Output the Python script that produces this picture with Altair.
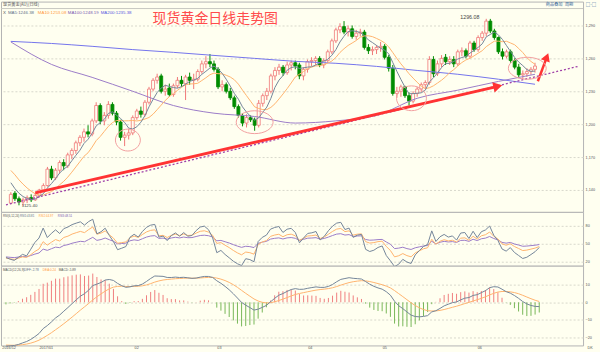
import altair as alt
import numpy as np
import pandas as pd

# ---------------- data ----------------
opens = [1128, 1137, 1132, 1129, 1131, 1133, 1131, 1135, 1140, 1144,
         1159, 1151, 1158, 1165, 1162, 1172, 1176, 1183, 1188, 1193,
         1191, 1203, 1217, 1203, 1208, 1218, 1210, 1202, 1188, 1190,
         1192, 1206, 1212, 1209, 1220, 1232, 1240, 1244, 1230, 1233,
         1227, 1235, 1240, 1237, 1243, 1240, 1241, 1248, 1255, 1257,
         1255, 1250, 1234, 1236, 1230, 1224, 1216, 1208, 1201, 1206,
         1204, 1199, 1219, 1226, 1230, 1244, 1249, 1252, 1247, 1254,
         1256, 1254, 1244, 1250, 1257, 1258, 1260, 1254, 1258, 1266,
         1276, 1286, 1289, 1284, 1287, 1280, 1283, 1284, 1270, 1267,
         1268, 1270, 1271, 1261, 1251, 1228, 1230, 1234, 1226, 1221,
         1228, 1232, 1236, 1238, 1259, 1246, 1255, 1261, 1257, 1259,
         1255, 1266, 1267, 1262, 1274, 1268, 1279, 1283, 1294, 1285,
         1279, 1266, 1262, 1266, 1258, 1252, 1245, 1246, 1248, 1250]
highs = [1138, 1139, 1134, 1133, 1135, 1136, 1137, 1141, 1146, 1161,
         1162, 1160, 1167, 1168, 1174, 1178, 1185, 1190, 1196, 1199,
         1205, 1220, 1219, 1211, 1221, 1220, 1212, 1204, 1193, 1196,
         1208, 1214, 1216, 1222, 1234, 1242, 1246, 1246, 1236, 1237,
         1237, 1243, 1244, 1245, 1247, 1246, 1250, 1258, 1262, 1264,
         1258, 1252, 1240, 1238, 1233, 1226, 1218, 1210, 1209, 1208,
         1206, 1222, 1228, 1233, 1246, 1252, 1255, 1254, 1257, 1258,
         1258, 1256, 1252, 1259, 1261, 1262, 1262, 1260, 1268, 1278,
         1288, 1292, 1294, 1290, 1290, 1286, 1287, 1286, 1273, 1271,
         1272, 1275, 1273, 1263, 1254, 1234, 1236, 1235, 1229, 1230,
         1234, 1238, 1240, 1262, 1262, 1258, 1263, 1264, 1262, 1262,
         1268, 1270, 1269, 1276, 1276, 1281, 1285, 1296.08, 1296, 1287,
         1280, 1269, 1268, 1268, 1260, 1255, 1249, 1251, 1252, 1256]
lows = [1127, 1130, 1126, 1125.4, 1128, 1129, 1130, 1133, 1138, 1143,
        1149, 1149, 1155, 1158, 1160, 1168, 1173, 1180, 1184, 1188,
        1189, 1201, 1200, 1199, 1205, 1208, 1199, 1185, 1180, 1186,
        1190, 1204, 1206, 1207, 1218, 1230, 1237, 1228, 1226, 1225,
        1225, 1233, 1234, 1222, 1236, 1232, 1239, 1246, 1251, 1252,
        1248, 1232, 1230, 1228, 1222, 1214, 1206, 1198, 1197, 1202,
        1194, 1197, 1216, 1222, 1228, 1240, 1245, 1244, 1245, 1249,
        1250, 1241, 1240, 1247, 1253, 1254, 1252, 1251, 1256, 1264,
        1274, 1283, 1282, 1280, 1278, 1277, 1280, 1268, 1264, 1263,
        1264, 1266, 1259, 1248, 1226, 1224, 1225, 1224, 1217, 1219,
        1225, 1229, 1232, 1236, 1243, 1244, 1252, 1254, 1254, 1252,
        1253, 1262, 1260, 1260, 1266, 1266, 1276, 1280, 1283, 1277,
        1264, 1259, 1260, 1256, 1250, 1242, 1241, 1243, 1245, 1247]
closes = [1136, 1132, 1129, 1131, 1133, 1131, 1135, 1140, 1144, 1159,
          1151, 1158, 1165, 1162, 1172, 1176, 1183, 1188, 1193, 1191,
          1203, 1217, 1203, 1208, 1218, 1210, 1202, 1188, 1190, 1192,
          1206, 1212, 1209, 1220, 1232, 1240, 1243, 1230, 1232, 1227,
          1235, 1240, 1237, 1243, 1240, 1241, 1248, 1255, 1257, 1255,
          1250, 1234, 1236, 1230, 1224, 1216, 1208, 1201, 1206, 1204,
          1199, 1219, 1226, 1230, 1244, 1249, 1252, 1247, 1254, 1256,
          1253, 1244, 1250, 1257, 1258, 1260, 1254, 1258, 1266, 1276,
          1286, 1289, 1284, 1287, 1280, 1283, 1284, 1270, 1267, 1268,
          1270, 1271, 1261, 1251, 1228, 1230, 1234, 1226, 1221, 1228,
          1232, 1236, 1238, 1259, 1246, 1255, 1260, 1257, 1259, 1255,
          1266, 1267, 1262, 1274, 1268, 1279, 1283, 1294, 1285, 1279,
          1266, 1262, 1266, 1258, 1252, 1245, 1246, 1248, 1250, 1253]
# closes just before the first visible day (set the start of MA5 / MA10)
prior_closes = [1172, 1175, 1170, 1168, 1160, 1159, 1150, 1146, 1142]

# long moving averages
ma_long_idx = [0, 10, 20, 30, 40, 50, 60, 70, 80, 90, 100, 110, 120, 129]
ma100_vals = [1275, 1254.5, 1242.7, 1230, 1217, 1210, 1207, 1201, 1203, 1208,
              1223.6, 1231, 1239, 1245.5]
ma200_vals = [1275.5, 1273.6, 1271, 1268, 1265.5, 1262.7, 1260, 1257.3, 1255.5,
              1252.7, 1249, 1245.5, 1241, 1236.4]

# indicator starting values
rsi_start = [27, 26, 28]          # RSI6, RSI12, RSI24 at the first day
macd_start = [-25.0, -24.4]       # DIFF, DEA at the first day
ema26_gap = 42                    # long EMA above price at the first day

month_ticks = [-1, 8, 31, 51, 73, 91, 114]
month_labels = ['2016/12', '2017/01', '02', '03', '04', '05', '06']
price_ticks = [1140, 1170, 1200, 1230, 1260, 1290]
rsi_ticks = [20, 50, 80]
macd_ticks = [-20, -10, 0, 10]

# ---------------- derived tables ----------------
n = len(closes)
allc = pd.Series(prior_closes + closes, dtype=float)
ma5 = allc.rolling(5).mean().iloc[len(prior_closes):].to_numpy()
ma10 = allc.rolling(10).mean().iloc[len(prior_closes):].to_numpy()

BG = '#FFFFF0'
UP = '#F07878'
DN = '#008C00'

df = pd.DataFrame({'i': range(n), 'open': opens, 'high': highs,
                   'low': lows, 'close': closes, 'ma5': ma5, 'ma10': ma10})
up = df['close'] >= df['open']
df['body'] = np.where(up, BG, DN)
df['edge'] = np.where(up, UP, DN)

mal = pd.DataFrame({'i': ma_long_idx, 'ma100': ma100_vals, 'ma200': ma200_vals})


def rsi_series(N, start, vol=7.0):
    u = start / 100 * vol
    a = vol
    out = [start]
    for k in range(1, n):
        d = closes[k] - closes[k - 1]
        u = (max(d, 0) + (N - 1) * u) / N
        a = (abs(d) + (N - 1) * a) / N
        out.append(100 * u / a)
    return out


rsi = pd.DataFrame({'i': range(n), 'r1': rsi_series(6, rsi_start[0]),
                    'r2': rsi_series(12, rsi_start[1]),
                    'r3': rsi_series(24, rsi_start[2])})

e26 = closes[0] + ema26_gap
e12 = e26 + macd_start[0]
diffs = [macd_start[0]]
deas = [macd_start[1]]
for k in range(1, n):
    c = closes[k]
    e12 = (2 * c + 11 * e12) / 13
    e26 = (2 * c + 25 * e26) / 27
    d = e12 - e26
    diffs.append(d)
    deas.append((2 * d + 8 * deas[-1]) / 10)
macd = pd.DataFrame({'i': range(n), 'diff': diffs, 'dea': deas})
macd['hist'] = 2 * (macd['diff'] - macd['dea'])
macd['zero'] = 0.0
macd['hc'] = np.where(macd['hist'] >= 0, '#F08080', '#78B858')

# ---------------- annotations (hand-drawn marks of the original) ----------------
ann_arrow = pd.DataFrame({'ax': [6.0, 119.85], 'ay': [1137.3, 1234.5]})
ann_arrow2 = pd.DataFrame({'ax': [129.7, 131.9], 'ay': [1239.1, 1261.2]})
ann_heads = pd.DataFrame({'ax': [119.85, 131.9], 'ay': [1234.5, 1261.2],
                          'ang': [77, 21], 'sz': [110, 90]})
ann_dots = pd.DataFrame({'ax': [-1.2, 139.6], 'ay': [1126.4, 1252.7]})


def ellipse(r):
    return f"M -1 0 A 1 {r} 0 1 1 1 0 A 1 {r} 0 1 1 -1 0 Z"


ann_ell = pd.DataFrame({'ax': [28.8, 60.0, 98.6, 127.1],
                        'ay': [1185.5, 1201.8, 1223.6, 1251.0],
                        'shape': [ellipse(0.88), ellipse(0.62), ellipse(0.83), ellipse(0.58)],
                        'sz': [625, 1369, 900, 1444]})
ann_txt = pd.DataFrame({'ax': [115.3, 2.7], 'ay': [1297.3, 1125.5],
                        'txt': ['1296.08', '1125.40']})

# ---------------- scales / axes ----------------
W = 584
LAT = 'Liberation Sans'
CJK = 'Noto Sans CJK SC'
xs = alt.Scale(domain=[-1.2, 139.6], nice=False, zero=False)
ps = alt.Scale(domain=[1120.0, 1311.8], nice=False, zero=False)
rs = alt.Scale(domain=[13.3, 103.3], nice=False, zero=False)
ms = alt.Scale(domain=[-24.6, 20.85], nice=False, zero=False)


def yaxis(vals):
    return alt.Axis(orient='right', values=vals, grid=True, gridDash=[2, 2],
                    gridColor='#D8D8CC', gridWidth=1, ticks=False, domain=False,
                    labelFontSize=3.8, labelColor='#555555', labelPadding=2,
                    labelFont=LAT, minExtent=16, maxExtent=16, title=None)


PA, RA, MA_ = yaxis(price_ticks), yaxis(rsi_ticks), yaxis(macd_ticks)
X = alt.X('i:Q', scale=xs, axis=None)
AX = alt.X('ax:Q', scale=xs, axis=None)
one = pd.DataFrame({'k': [0]})


def label(text, x, y, color, size, align='left', font=LAT, baseline='middle'):
    return alt.Chart(one).mark_text(text=text, align=align, baseline=baseline,
                                    fontSize=size, color=color, font=font).encode(
        x=alt.value(x), y=alt.value(y))


def Yp(f):
    return alt.Y(f'{f}:Q', scale=ps, axis=PA, title=None)


# ---------------- main panel ----------------
cb = alt.Chart(df)
wicks = cb.mark_rule(strokeWidth=1).encode(
    x=X, y=Yp('low'), y2='high', color=alt.Color('edge:N', scale=None))
bodies = cb.mark_bar(size=3, strokeWidth=0.8).encode(
    x=X, y=Yp('open'), y2='close',
    fill=alt.Fill('body:N', scale=None), stroke=alt.Stroke('edge:N', scale=None))
l_ma5 = cb.mark_line(color='#74869A', strokeWidth=1).encode(x=X, y=Yp('ma5'))
l_ma10 = cb.mark_line(color='#FFB46E', strokeWidth=1).encode(x=X, y=Yp('ma10'))
l_ma100 = alt.Chart(mal).mark_line(color='#9C7CC8', strokeWidth=1, interpolate='monotone').encode(
    x=X, y=Yp('ma100'))
l_ma200 = alt.Chart(mal).mark_line(color='#7474EC', strokeWidth=1, interpolate='monotone').encode(
    x=X, y=Yp('ma200'))

dots = alt.Chart(ann_dots).mark_line(color='#A040A8', strokeWidth=1.3, strokeDash=[2, 2]).encode(
    x=AX, y=Yp('ay'))
arrow = alt.Chart(ann_arrow).mark_line(color='#FF3333', strokeWidth=3).encode(x=AX, y=Yp('ay'))
arrow2 = alt.Chart(ann_arrow2).mark_line(color='#FF3333', strokeWidth=2.5).encode(x=AX, y=Yp('ay'))
heads = alt.Chart(ann_heads).mark_point(filled=True, color='#FF3333', opacity=1,
                                        shape='triangle-up').encode(
    x=AX, y=Yp('ay'), angle=alt.Angle('ang:Q', scale=None), size=alt.Size('sz:Q', scale=None))
ells = alt.Chart(ann_ell).mark_point(filled=False, color='#F2A0A0', strokeWidth=1, opacity=1).encode(
    x=AX, y=Yp('ay'), shape=alt.Shape('shape:N', scale=None), size=alt.Size('sz:Q', scale=None))
ptxt_r = alt.Chart(ann_txt.iloc[[0]]).mark_text(fontSize=5.3, color='#444444', font=LAT,
                                                 baseline='middle', align='right').encode(
    x=AX, y=Yp('ay'), text='txt:N')
ptxt_l = alt.Chart(ann_txt.iloc[[1]]).mark_text(fontSize=4.4, color='#444444', font=LAT,
                                                 baseline='middle', align='left').encode(
    x=AX, y=Yp('ay'), text='txt:N')

top_rule = alt.Chart(one).mark_rule(color='#C8C8C0', strokeWidth=1).encode(
    x=alt.value(0), x2=alt.value(W), y=alt.value(7))
edge_rule = alt.Chart(one).mark_rule(color=BG, strokeWidth=1).encode(
    x=alt.value(599.5), y=alt.value(0), y2=alt.value(10))

main = alt.layer(
    wicks, bodies, l_ma200, l_ma100, l_ma10, l_ma5, dots, arrow, arrow2, heads, ells,
    ptxt_r, ptxt_l, top_rule, edge_rule,
    label('现货黄金(AU)(日线)', 2, 3, '#555555', 4.2, font=CJK),
    label('商品叠加', 555, 3.5, '#336699', 4.2, align='center', font=CJK),
    label('周期', 570, 3.5, '#336699', 4.2, align='center', font=CJK),
    label('□-□', 592, 3.5, '#336699', 4.5, align='center', font=CJK),
    label('X', 2, 11, '#555555', 4.4),
    label('MA5:1246.38', 7, 11, '#5E7088', 4.4),
    label('MA10:1253.08', 37, 11, '#FF9A40', 4.4),
    label('MA100:1248.19', 67, 11, '#7A58B0', 4.4),
    label('MA200:1235.38', 100, 11, '#5858E0', 4.4),
    label('现货黄金日线走势图', 215, 17, '#FF4C4C', 14, align='center', font=CJK),
).properties(width=W, height=211)

# ---------------- RSI panel ----------------
cr = alt.Chart(rsi)
rsi_panel = alt.layer(
    cr.mark_line(color='#9C7CC8', strokeWidth=1).encode(x=X, y=alt.Y('r3:Q', scale=rs, axis=RA, title=None)),
    cr.mark_line(color='#FFB46E', strokeWidth=1).encode(x=X, y=alt.Y('r2:Q', scale=rs, axis=RA, title=None)),
    cr.mark_line(color='#74869A', strokeWidth=1).encode(x=X, y=alt.Y('r1:Q', scale=rs, axis=RA, title=None)),
    label('RSI(6,12,24)', 2, 4, '#555555', 2.9),
    label('RSI1:43.81', 19, 4, '#5E7088', 2.9),
    label('RSI2:44.97', 38, 4, '#FF9A40', 2.9),
    label('RSI3:48.51', 57, 4, '#7A58B0', 2.9),
).properties(width=W, height=54)

# ---------------- MACD panel ----------------
label_expr = " : ".join(f"datum.value == {v} ? '{t}'" for v, t in zip(month_ticks, month_labels)) + " : ''"
XM = alt.X('i:Q', scale=xs, axis=alt.Axis(values=month_ticks, labelExpr=label_expr, labelAlign='left',
                                          labelBaseline='top', labelFontSize=3.8, labelPadding=0.5,
                                          labelColor='#555555', labelFont=LAT, ticks=False,
                                          domain=False, grid=False, minExtent=5, maxExtent=5,
                                          title=None, labelOverlap=False))
cm = alt.Chart(macd)
macd_panel = alt.layer(
    cm.mark_rule(strokeWidth=1).encode(x=XM, y=alt.Y('zero:Q', scale=ms, axis=MA_, title=None),
                                       y2='hist:Q', color=alt.Color('hc:N', scale=None)),
    cm.mark_line(color='#FFB46E', strokeWidth=1).encode(x=XM, y=alt.Y('dea:Q', scale=ms, axis=MA_, title=None)),
    cm.mark_line(color='#74869A', strokeWidth=1).encode(x=XM, y=alt.Y('diff:Q', scale=ms, axis=MA_, title=None)),
    label('MACD(12,26,9)', 2, 4.5, '#555555', 3.1),
    label('DIFF:-2.78', 23, 4.5, '#5E7088', 3.1),
    label('DEA:0.24', 42, 4.5, '#FF9A40', 3.1),
    label('MACD:-5.89', 58, 4.5, '#555555', 3.1),
    label('DK', 591, 82.5, '#555555', 3.8, align='center'),
).properties(width=W, height=80)

chart = alt.vconcat(main, rsi_panel, macd_panel, spacing=0, bounds='flush').properties(
    padding=0, background=BG
).configure_view(stroke='#B4B4B4', strokeWidth=1, fill=BG)

chart.save("out.html", embed_options={"renderer": "svg", "actions": False})
